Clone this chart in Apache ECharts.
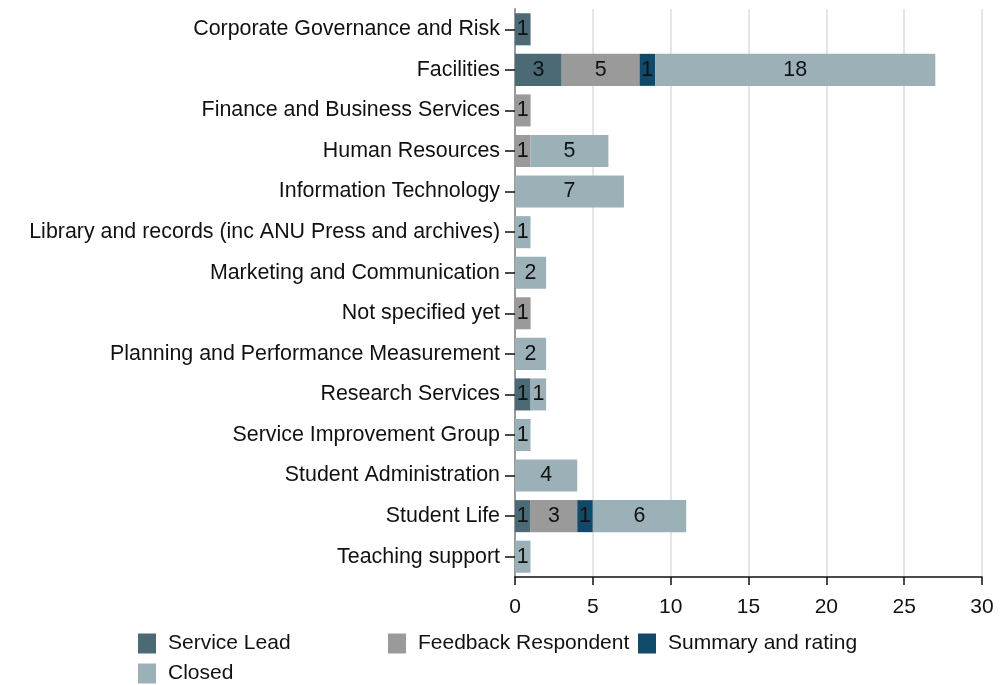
<!DOCTYPE html>
<html>
<head>
<meta charset="utf-8">
<script src="https://cdn.jsdelivr.net/npm/echarts@6/dist/echarts.min.js"></script>
<style>
  html, body { margin: 0; padding: 0; background: #fff; }
  #chart { width: 1005px; height: 685px; }
</style>
</head>
<body>
<div id="chart"></div>
<script>
var categories = [
  "Corporate Governance and Risk",
  "Facilities",
  "Finance and Business Services",
  "Human Resources",
  "Information Technology",
  "Library and records (inc ANU Press and archives)",
  "Marketing and Communication",
  "Not specified yet",
  "Planning and Performance Measurement",
  "Research Services",
  "Service Improvement Group",
  "Student Administration",
  "Student Life",
  "Teaching support"
];
var serviceLeadCounts = [1, 3, 0, 0, 0, 0, 0, 0, 0, 1, 0, 0, 1, 0];
var feedbackCounts = [0, 5, 1, 1, 0, 0, 0, 1, 0, 0, 0, 0, 3, 0];
var summaryCounts = [0, 1, 0, 0, 0, 0, 0, 0, 0, 0, 0, 0, 1, 0];
var closedCounts = [0, 18, 0, 5, 7, 1, 2, 0, 2, 1, 1, 4, 6, 1];

var seriesNames = ["Service Lead", "Feedback Respondent", "Summary and rating", "Closed"];
var seriesColors = ["#4b6a76", "#9a9a9a", "#11496a", "#9cb1b7"];
var seriesData = [serviceLeadCounts, feedbackCounts, summaryCounts, closedCounts];

var chart = echarts.init(document.getElementById("chart"));
var font = "Liberation Sans, Arial, sans-serif";

// one legend per item, laid out on the original's 250px column grid
var legendPos = [[138, 633], [388, 633], [638, 633], [138, 663]];
var legends = seriesNames.map(function (name, i) {
  return {
    left: legendPos[i][0],
    top: legendPos[i][1],
    padding: 0,
    data: [name],
    icon: "rect",
    itemWidth: 18,
    itemHeight: 20,
    selectedMode: false,
    textStyle: { fontFamily: font, fontSize: 21, color: "#111", padding: [0, 0, 0, 7] }
  };
});

var option = {
  animation: false,
  legend: legends,
  grid: { left: 515, right: 23, top: 9, bottom: 108, containLabel: false },
  xAxis: {
    type: "value",
    min: 0,
    max: 30,
    interval: 5,
    axisLine: { show: true, lineStyle: { color: "#111", width: 1.5 } },
    axisTick: { show: true, length: 8, lineStyle: { color: "#111", width: 1.5 } },
    axisLabel: { fontFamily: font, fontSize: 21, color: "#111", margin: 20 },
    splitLine: { show: true, lineStyle: { color: "#dddddd", width: 1.5 } }
  },
  yAxis: {
    type: "category",
    inverse: true,
    data: categories,
    axisLine: { show: true, lineStyle: { color: "#999", width: 2 } },
    axisTick: { show: true, length: 10, alignWithLabel: true, lineStyle: { color: "#111", width: 1.5 } },
    axisLabel: { fontFamily: font, fontSize: 21.4, color: "#111", margin: 15 }
  },
  series: seriesNames.map(function (name, i) {
    return {
      name: name,
      type: "bar",
      stack: "total",
      barWidth: "79%",
      itemStyle: { color: seriesColors[i] },
      label: {
        show: true,
        position: "inside",
        fontFamily: font,
        fontSize: 21.4,
        color: "#111",
        formatter: function (p) { return p.value ? String(p.value) : ""; }
      },
      data: seriesData[i]
    };
  })
};
chart.setOption(option);
</script>
</body>
</html>
